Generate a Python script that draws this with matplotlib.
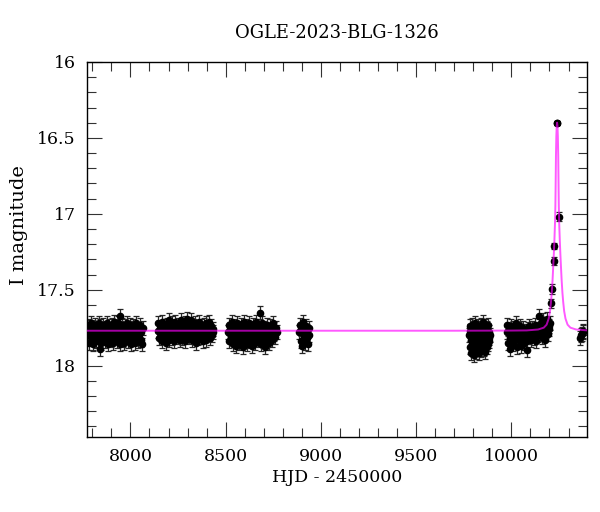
import matplotlib
matplotlib.use("Agg")
import matplotlib.pyplot as plt
from matplotlib.ticker import MultipleLocator, FuncFormatter

plt.rcParams['font.family'] = ['DejaVu Serif']

TITLE = 'OGLE-2023-BLG-1326'
XLABEL = 'HJD - 2450000'
YLABEL = 'I magnitude'

# season 1
t1 = [7778, 7781, 7785, 7789, 7792, 7796, 7800, 7803,
      7807, 7811, 7814, 7818, 7822, 7825, 7829, 7833,
      7836, 7840, 7842, 7847, 7851, 7855, 7858, 7862,
      7866, 7869, 7873, 7877, 7880, 7884, 7888, 7891,
      7895, 7899, 7902, 7906, 7910, 7913, 7917, 7921,
      7924, 7928, 7932, 7935, 7939, 7944, 7946, 7950,
      7954, 7957, 7961, 7965, 7968, 7972, 7976, 7979,
      7983, 7987, 7990, 7994, 7998, 8001, 8005, 8009,
      8012, 8016, 8020, 8023, 8027, 8031, 8034, 8038,
      8042, 8045, 8049, 8053, 8056, 8060, 8064]
m1 = [17.80, 17.74, 17.85, 17.77, 17.72, 17.82, 17.79, 17.86,
      17.75, 17.81, 17.73, 17.84, 17.78, 17.76, 17.83, 17.72,
      17.80, 17.74, 17.89, 17.85, 17.77, 17.81, 17.73, 17.79,
      17.84, 17.75, 17.82, 17.72, 17.78, 17.86, 17.74, 17.80,
      17.76, 17.83, 17.73, 17.79, 17.85, 17.71, 17.81, 17.77,
      17.74, 17.84, 17.78, 17.72, 17.82, 17.67, 17.86, 17.75,
      17.80, 17.73, 17.83, 17.77, 17.85, 17.74, 17.79, 17.81,
      17.72, 17.84, 17.76, 17.80, 17.73, 17.86, 17.78, 17.75,
      17.82, 17.74, 17.79, 17.85, 17.77, 17.72, 17.81, 17.84,
      17.76, 17.80, 17.73, 17.83, 17.78, 17.86, 17.75]

# season 2
t2 = [8144, 8147, 8152, 8156, 8159, 8164, 8168, 8171,
      8176, 8180, 8183, 8188, 8192, 8195, 8200, 8204,
      8207, 8212, 8216, 8219, 8224, 8228, 8231, 8236,
      8240, 8243, 8248, 8252, 8255, 8260, 8264, 8267,
      8272, 8276, 8279, 8284, 8288, 8291, 8295, 8300,
      8303, 8308, 8312, 8315, 8320, 8324, 8327, 8332,
      8336, 8339, 8344, 8348, 8351, 8356, 8360, 8363,
      8368, 8372, 8375, 8380, 8384, 8387, 8392, 8396,
      8399, 8404, 8408, 8411, 8416, 8420, 8423, 8428,
      8432, 8436]
m2 = [17.77, 17.72, 17.82, 17.75, 17.80, 17.71, 17.84, 17.78,
      17.74, 17.81, 17.76, 17.85, 17.73, 17.79, 17.70, 17.83,
      17.77, 17.74, 17.82, 17.72, 17.80, 17.76, 17.84, 17.71,
      17.79, 17.75, 17.81, 17.73, 17.78, 17.83, 17.70, 17.76,
      17.82, 17.74, 17.79, 17.72, 17.84, 17.77, 17.69, 17.80,
      17.75, 17.81, 17.73, 17.78, 17.70, 17.83, 17.76, 17.74,
      17.80, 17.72, 17.85, 17.77, 17.75, 17.82, 17.71, 17.79,
      17.74, 17.81, 17.76, 17.84, 17.73, 17.78, 17.80, 17.72,
      17.83, 17.75, 17.79, 17.71, 17.82, 17.77, 17.74, 17.80,
      17.76, 17.78]

# season 3
t3 = [8512, 8516, 8519, 8524, 8528, 8531, 8536, 8540,
      8543, 8548, 8552, 8555, 8560, 8564, 8567, 8572,
      8576, 8579, 8584, 8588, 8591, 8596, 8600, 8603,
      8608, 8612, 8615, 8620, 8624, 8627, 8632, 8636,
      8639, 8644, 8648, 8651, 8656, 8660, 8663, 8668,
      8672, 8675, 8680, 8684, 8687, 8692, 8696, 8699,
      8704, 8708, 8711, 8716, 8720, 8723, 8728, 8732,
      8735, 8740, 8744, 8747, 8752, 8756, 8759, 8764,
      8767]
m3 = [17.78, 17.73, 17.84, 17.76, 17.81, 17.71, 17.86, 17.79,
      17.74, 17.82, 17.77, 17.87, 17.72, 17.80, 17.75, 17.85,
      17.78, 17.73, 17.83, 17.76, 17.88, 17.71, 17.81, 17.79,
      17.74, 17.86, 17.77, 17.72, 17.84, 17.80, 17.75, 17.87,
      17.78, 17.73, 17.82, 17.76, 17.85, 17.71, 17.80, 17.74,
      17.83, 17.77, 17.65, 17.86, 17.79, 17.72, 17.84, 17.75,
      17.81, 17.88, 17.76, 17.73, 17.82, 17.78, 17.85, 17.74,
      17.80, 17.77, 17.83, 17.72, 17.79, 17.76, 17.81, 17.75,
      17.78]

# season 4
t4 = [8885, 8889, 8893, 8897, 8901, 8905, 8909, 8913,
      8917, 8921, 8925, 8929, 8933, 8937, 8940]
m4 = [17.78, 17.73, 17.84, 17.76, 17.87, 17.71, 17.81, 17.79,
      17.85, 17.74, 17.82, 17.77, 17.86, 17.75, 17.80]

# season 5
t5 = [9779, 9781, 9783, 9785, 9787, 9789, 9791, 9793,
      9795, 9797, 9799, 9801, 9803, 9805, 9807, 9809,
      9811, 9813, 9815, 9817, 9819, 9821, 9823, 9825,
      9827, 9829, 9831, 9833, 9835, 9837, 9839, 9841,
      9843, 9845, 9847, 9849, 9851, 9853, 9855, 9857,
      9859, 9861, 9863, 9865, 9867, 9869, 9871, 9873,
      9875, 9877, 9879, 9881, 9883, 9885, 9887]
m5 = [17.80, 17.74, 17.88, 17.77, 17.92, 17.83, 17.73, 17.86,
      17.79, 17.90, 17.75, 17.84, 17.93, 17.78, 17.87, 17.72,
      17.82, 17.91, 17.76, 17.85, 17.79, 17.89, 17.74, 17.83,
      17.88, 17.77, 17.92, 17.81, 17.75, 17.86, 17.90, 17.73,
      17.84, 17.78, 17.87, 17.71, 17.82, 17.76, 17.89, 17.80,
      17.85, 17.74, 17.91, 17.79, 17.83, 17.77, 17.88, 17.75,
      17.86, 17.81, 17.73, 17.84, 17.78, 17.82, 17.80]

# season 6 (before the peak)
t6 = [9975, 9979, 9983, 9987, 9991, 9995, 9999, 10003,
      10007, 10011, 10015, 10019, 10023, 10027, 10031, 10035,
      10039, 10043, 10047, 10051, 10055, 10059, 10063, 10067,
      10071, 10075, 10079, 10083, 10087, 10091, 10095, 10099,
      10103, 10107, 10111, 10115, 10119, 10123, 10127, 10131,
      10135, 10139, 10143, 10147, 10151, 10155, 10159, 10163,
      10167, 10171, 10175, 10179, 10183, 10187, 10191, 10195,
      10199, 10203]
m6 = [17.78, 17.73, 17.85, 17.76, 17.82, 17.89, 17.74, 17.80,
      17.86, 17.75, 17.83, 17.77, 17.72, 17.88, 17.79, 17.81,
      17.76, 17.84, 17.74, 17.87, 17.78, 17.82, 17.75, 17.85,
      17.80, 17.77, 17.84, 17.90, 17.76, 17.81, 17.74, 17.79,
      17.83, 17.75, 17.80, 17.77, 17.82, 17.73, 17.78, 17.84,
      17.76, 17.80, 17.74, 17.67, 17.79, 17.72, 17.81, 17.75,
      17.70, 17.78, 17.83, 17.73, 17.77, 17.69, 17.79, 17.74,
      17.76, 17.72]

# after the peak
t7 = [10360, 10365, 10370, 10374, 10378]
m7 = [17.82, 17.80, 17.79, 17.77, 17.78]

base_err = 0.045

# bright points on the event
t_ev = [10210, 10215, 10223, 10225, 10238, 10242, 10251]
m_ev = [17.59, 17.495, 17.31, 17.21, 16.40, 16.40, 17.02]
e_ev = [0.03, 0.03, 0.025, 0.02, 0.012, 0.012, 0.03]

# model curve
model_t = [7772, 9700, 10000, 10080, 10140, 10170, 10185, 10196,
           10203, 10208, 10212, 10216, 10220, 10223, 10226, 10229,
           10231, 10232, 10234, 10236, 10238, 10240, 10242, 10244,
           10246, 10248, 10249, 10251, 10254, 10257, 10260, 10264,
           10268, 10272, 10277, 10284, 10295, 10310, 10340, 10400]
model_m = [17.77, 17.77, 17.769, 17.768, 17.762, 17.75, 17.73, 17.69,
           17.64, 17.58, 17.52, 17.44, 17.34, 17.26, 17.17, 17.06,
           16.95, 16.85, 16.62, 16.49, 16.42, 16.40, 16.42, 16.49,
           16.62, 16.85, 16.95, 17.06, 17.17, 17.26, 17.34, 17.44,
           17.52, 17.58, 17.64, 17.69, 17.73, 17.75, 17.762, 17.768]

seasons = [(t1, m1), (t2, m2), (t3, m3), (t4, m4), (t5, m5), (t6, m6), (t7, m7)]

fig = plt.figure(figsize=(6, 5.12), dpi=100)
ax = fig.add_axes([87 / 600, 75 / 512, 500 / 600, 375 / 512])

eb_kw = dict(fmt='o', ms=4.5, color='black', ecolor='#262626',
             elinewidth=0.9, capsize=2.3, capthick=0.9, zorder=2)
for t, m in seasons:
    ax.errorbar(t, m, yerr=[base_err] * len(m), **eb_kw)
ax.errorbar(t_ev, m_ev, yerr=e_ev, **eb_kw)

# model drawn on top, partly see-through so it darkens over the points
ax.plot(model_t, model_m, color='#ff00ff', lw=1.4, alpha=0.65, zorder=3)

ax.set_xlim(7772, 10397)
ax.set_ylim(18.47, 16.0)

ax.xaxis.set_major_locator(MultipleLocator(500))
ax.xaxis.set_minor_locator(MultipleLocator(100))
ax.yaxis.set_major_locator(MultipleLocator(0.5))
ax.yaxis.set_minor_locator(MultipleLocator(0.1))
ax.yaxis.set_major_formatter(FuncFormatter(lambda v, p: '%g' % v))

ax.tick_params(which='both', direction='in', top=True, right=True,
               labelsize=12.5, width=0.8, color='#333333')
ax.tick_params(which='major', length=11, pad=8)
ax.tick_params(which='minor', length=6.5)
for s in ax.spines.values():
    s.set_linewidth(1.0)

ax.set_xlabel(XLABEL, fontsize=12.5, labelpad=3)
ax.set_ylabel(YLABEL, fontsize=14)
ax.yaxis.set_label_coords(-0.118, 0.565)
ax.set_title(TITLE, fontsize=13, pad=17)

fig.savefig('out.png', dpi=100)
